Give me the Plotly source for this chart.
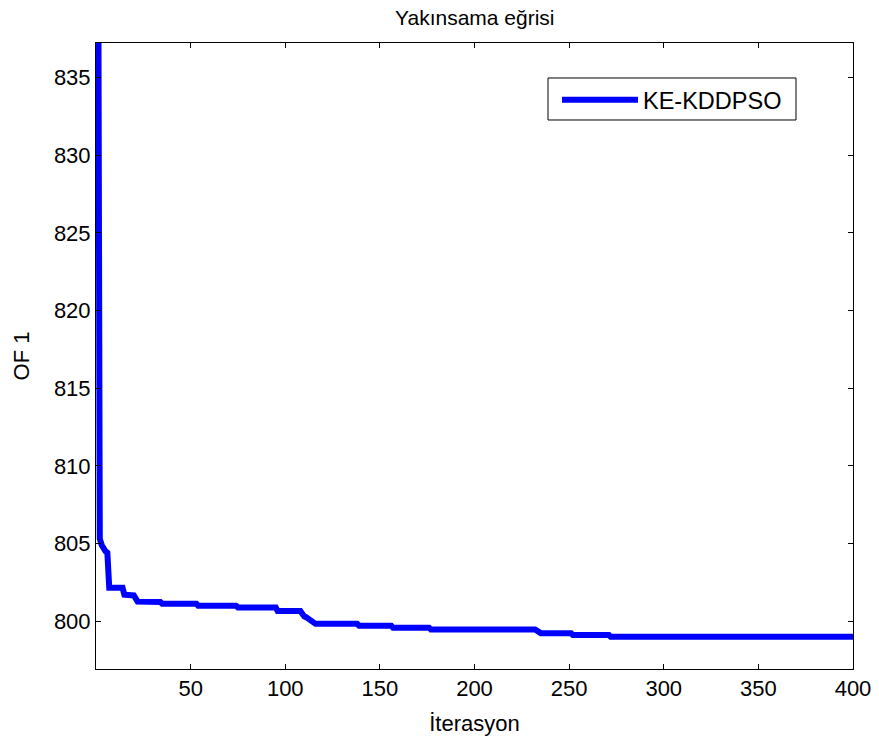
import plotly.graph_objects as go

# Best objective value (OF 1) per iteration, listed at the corners of the convergence curve
iterations = [1, 2, 3, 4, 5, 6, 7, 14, 15, 20, 21, 22, 34, 35, 53, 54, 74, 75, 95, 96,
              108, 109, 110, 111, 112, 113, 114, 115, 116, 138, 139, 156, 157, 176, 177,
              232, 233, 234, 235, 251, 252, 271, 272, 400]
of1_values = [852.0, 805.3, 804.9, 804.6, 804.5, 804.4, 802.15, 802.15, 801.7, 801.65,
              801.45, 801.25, 801.22, 801.12, 801.12, 800.98, 800.98, 800.87, 800.87, 800.64,
              800.64, 800.4, 800.3, 800.25, 800.18, 800.1, 800.0, 799.9, 799.82, 799.82,
              799.7, 799.7, 799.57, 799.57, 799.45, 799.45, 799.38, 799.3, 799.22, 799.22,
              799.1, 799.1, 798.98, 798.98]

x_ticks = [50, 100, 150, 200, 250, 300, 350, 400]
y_ticks = [800, 805, 810, 815, 820, 825, 830, 835]

FONT = "Liberation Sans, Arial, sans-serif"

fig = go.Figure()
fig.add_trace(go.Scatter(
    x=iterations, y=of1_values, mode="lines", name="KE-KDDPSO",
    line=dict(color="#0000ff", width=6),
))

axis_common = dict(
    showline=True, linecolor="black", linewidth=1, mirror="ticks",
    ticks="inside", ticklen=5, tickwidth=1, tickcolor="black",
    showgrid=False, zeroline=False, automargin=False,
    tickfont=dict(family=FONT, size=22, color="black"),
)

# Frame around the legend entry
fig.add_shape(type="rect", xref="paper", yref="paper",
              x0=0.5971, x1=0.9247, y0=0.8770, y1=0.9441,
              line=dict(color="black", width=1), fillcolor="white", layer="above")

# Chart title centred over the axes
fig.add_annotation(text="Yakınsama eğrisi", xref="paper", yref="paper",
                   x=0.5, y=1 + 25 / 626, xanchor="center", yanchor="middle",
                   showarrow=False, font=dict(family=FONT, size=21, color="black"))

fig.update_layout(
    width=879, height=740,
    margin=dict(l=96, r=26, t=43, b=71),
    paper_bgcolor="white", plot_bgcolor="white",
    font=dict(family=FONT, size=22, color="black"),
    xaxis=dict(range=[0, 400], tickvals=x_ticks,
               title=dict(text="İterasyon", standoff=15,
                          font=dict(family=FONT, size=22, color="black")),
               **axis_common),
    yaxis=dict(range=[796.91, 837.24], tickvals=y_ticks,
               title=dict(text="OF 1", standoff=18,
                          font=dict(family=FONT, size=22, color="black")),
               **axis_common),
    showlegend=True,
    legend=dict(x=0.609, y=0.944, xanchor="left", yanchor="top",
                bgcolor="rgba(0,0,0,0)", borderwidth=0,
                font=dict(family=FONT, size=23.5, color="black"),
                itemwidth=76),
)

fig.write_html("out.html")
